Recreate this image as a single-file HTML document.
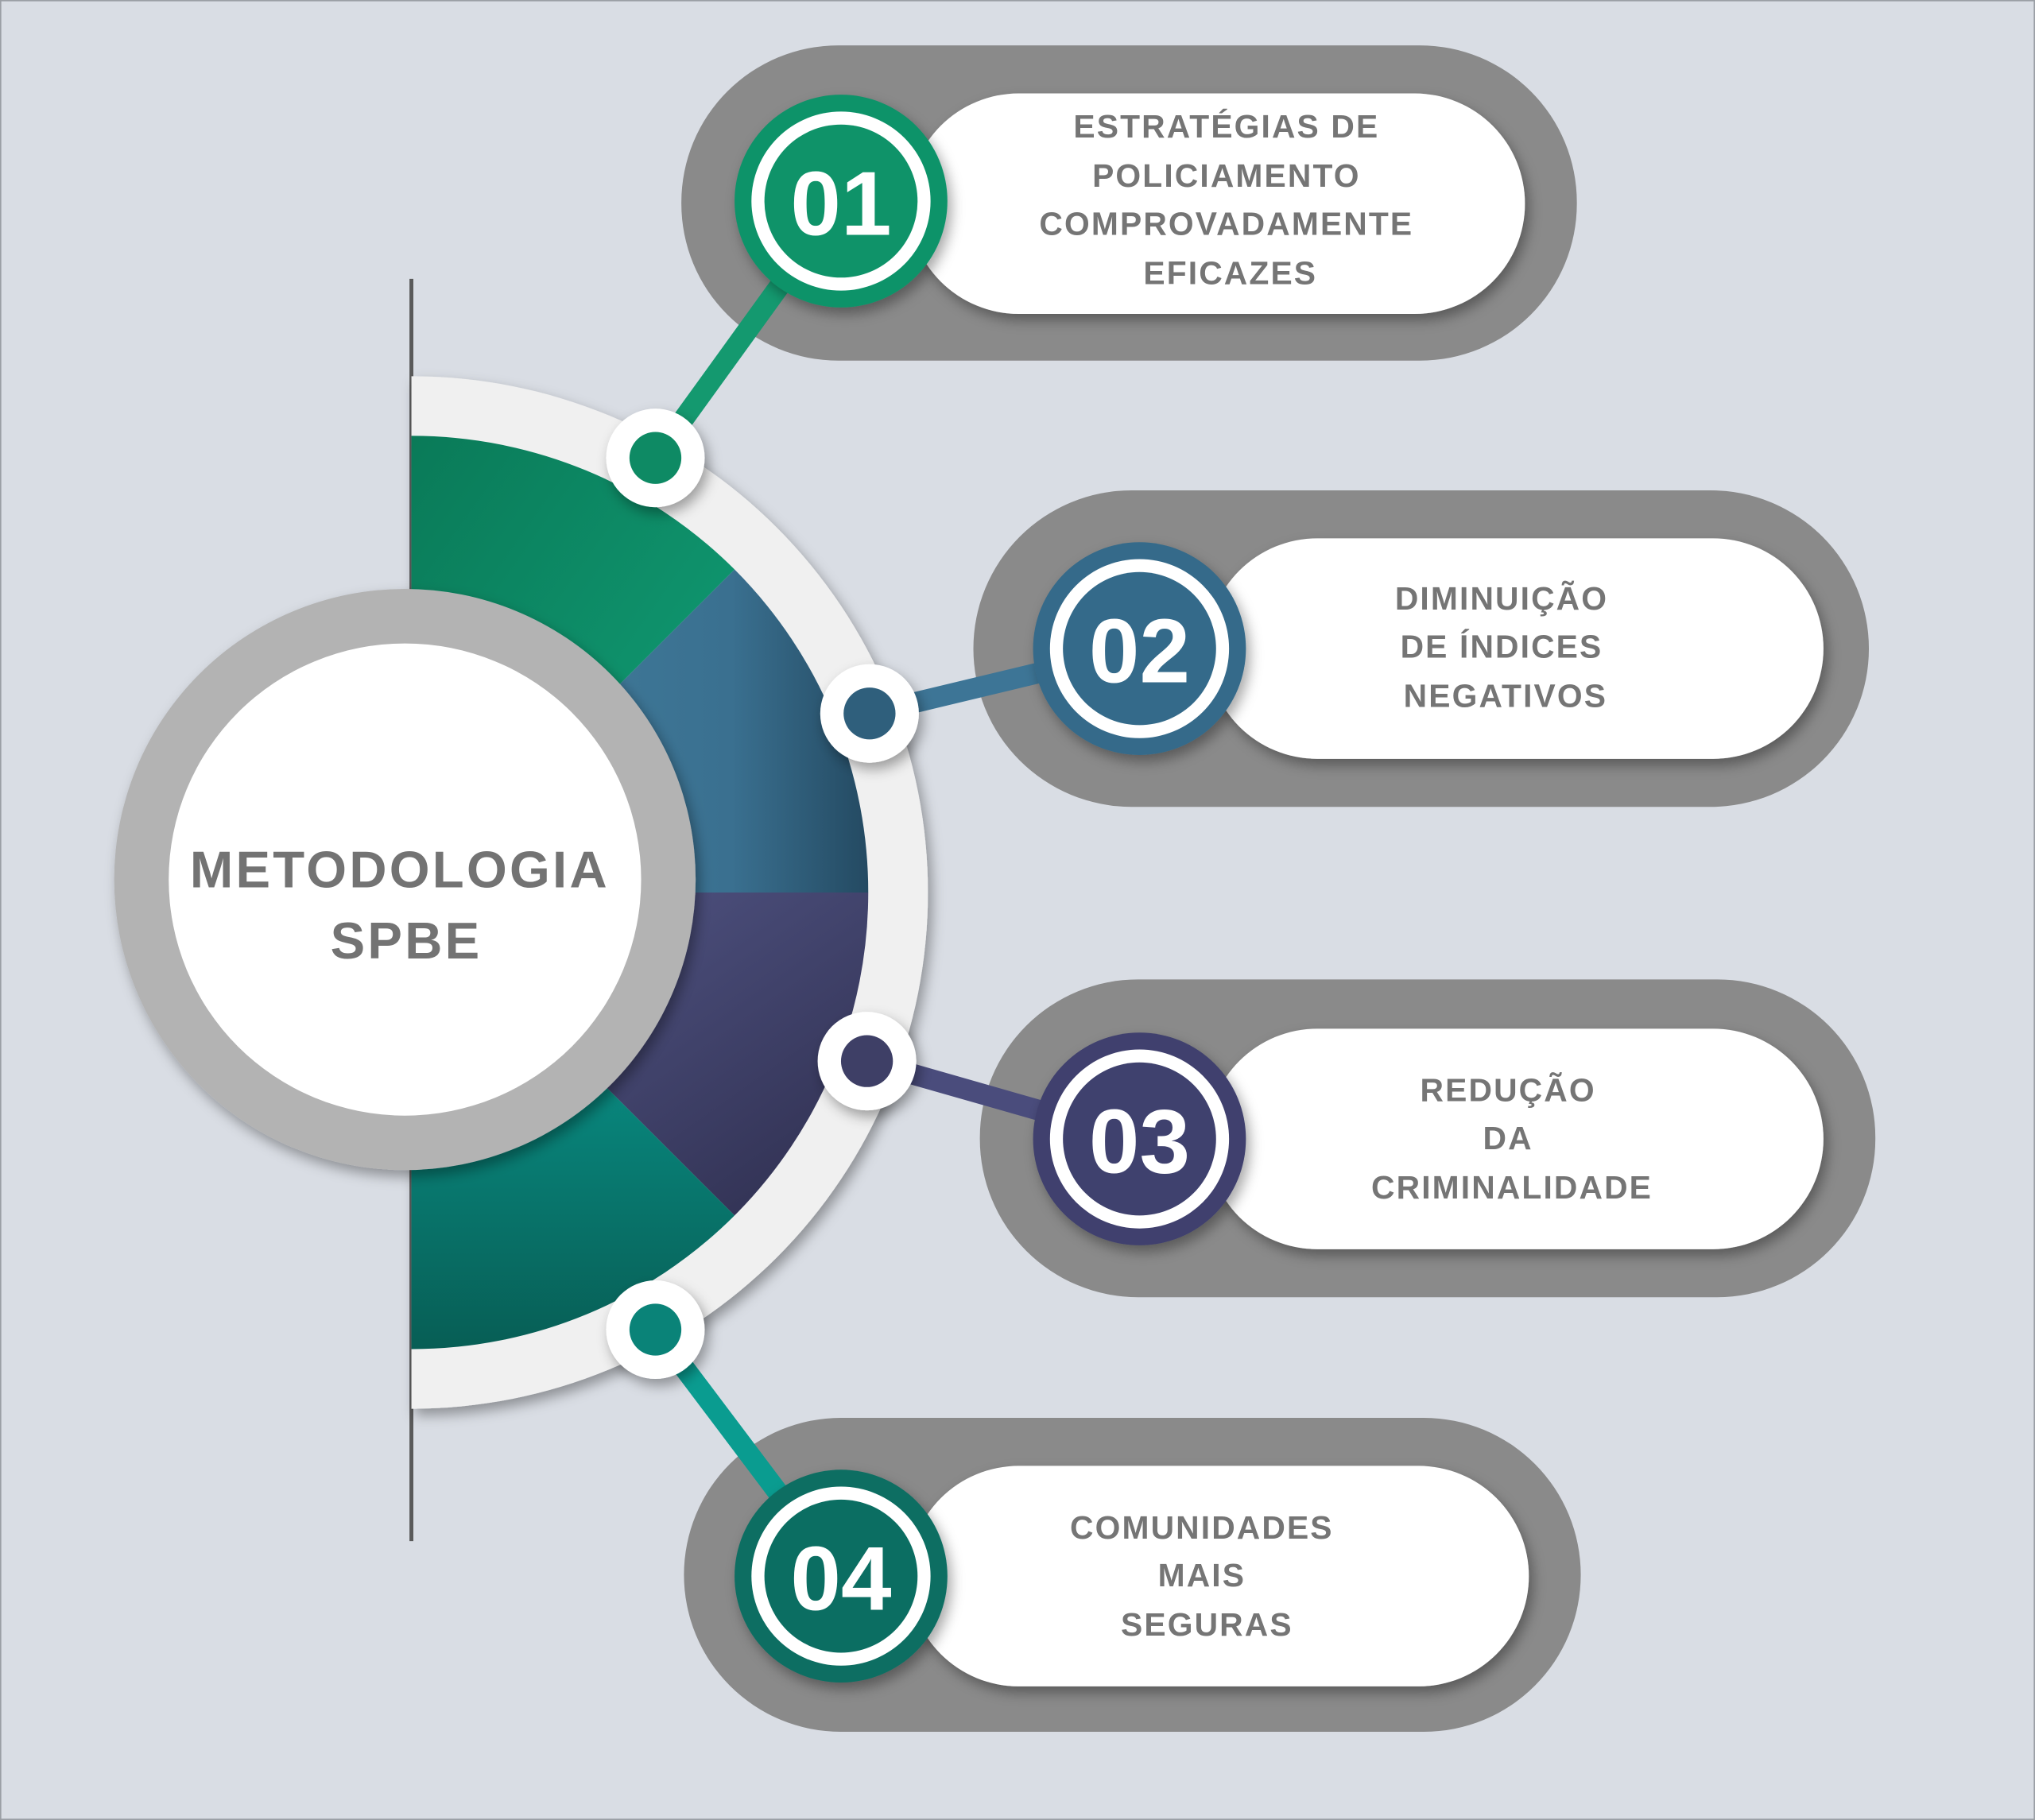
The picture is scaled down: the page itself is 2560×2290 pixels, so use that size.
<!DOCTYPE html>
<html><head><meta charset="utf-8"><style>
html,body{margin:0;padding:0;background:#d9dde4;}
svg{display:block;}
text{font-family:"Liberation Sans",sans-serif;font-weight:bold;}
</style></head><body>
<svg width="2560" height="2290" viewBox="0 0 1568 1403" preserveAspectRatio="none" xmlns="http://www.w3.org/2000/svg">
<defs>
<linearGradient id="gG" x1="0" y1="0" x2="1" y2="1"><stop offset="0" stop-color="#0a7a58"/><stop offset="1" stop-color="#11a077"/></linearGradient>
<linearGradient id="gB" x1="0" y1="0" x2="1" y2="0"><stop offset="0" stop-color="#43809f"/><stop offset="0.7" stop-color="#3a7090"/><stop offset="1" stop-color="#244a62"/></linearGradient>
<linearGradient id="gP" x1="0" y1="0" x2="1" y2="1"><stop offset="0" stop-color="#565a8c"/><stop offset="1" stop-color="#2e2e4e"/></linearGradient>
<linearGradient id="gT" x1="0" y1="0" x2="0" y2="1"><stop offset="0" stop-color="#0aa49a"/><stop offset="1" stop-color="#075e55"/></linearGradient>
<filter id="sh" x="-20%" y="-20%" width="140%" height="140%"><feDropShadow dx="3" dy="5" stdDeviation="5" flood-color="#000" flood-opacity="0.35"/></filter>
</defs>
<rect x="0" y="0" width="1568" height="1403" fill="#d9dde4" stroke="#9a9ea4" stroke-width="2"/>

<rect x="525" y="35" width="690" height="243" rx="121" fill="#8a8a8a"/>
<rect x="750" y="378" width="690" height="244" rx="122" fill="#8a8a8a"/>
<rect x="755" y="755" width="690" height="245" rx="122" fill="#8a8a8a"/>
<rect x="527" y="1093" width="691" height="242" rx="121" fill="#8a8a8a"/>
<rect x="700" y="72" width="475" height="170" rx="85" fill="#ffffff" filter="url(#sh)"/>
<rect x="930" y="415" width="475" height="170" rx="85" fill="#ffffff" filter="url(#sh)"/>
<rect x="930" y="793" width="475" height="170" rx="85" fill="#ffffff" filter="url(#sh)"/>
<rect x="700" y="1130" width="478" height="170" rx="85" fill="#ffffff" filter="url(#sh)"/>

<line x1="317" y1="215" x2="317" y2="1188" stroke="#5a5a5a" stroke-width="3"/>

<path d="M317 290 A398 398 0 0 1 317 1086 Z" fill="#f0f0f0" filter="url(#sh)"/>
<path d="M317 688 L317 336 A352 352 0 0 1 566 439 Z" fill="url(#gG)"/>
<path d="M317 688 L566 439 A352 352 0 0 1 669 688 Z" fill="url(#gB)"/>
<path d="M317 688 L669 688 A352 352 0 0 1 566 937 Z" fill="url(#gP)"/>
<path d="M317 688 L566 937 A352 352 0 0 1 317 1040 Z" fill="url(#gT)"/>

<circle cx="312" cy="678" r="224" fill="#b3b3b3" filter="url(#sh)"/>
<circle cx="312" cy="678" r="182" fill="#ffffff"/>
<text x="308" y="684" font-size="40" letter-spacing="2" fill="#737373" text-anchor="middle">METODOLOGIA</text>
<text x="313" y="739" font-size="40" letter-spacing="2" fill="#737373" text-anchor="middle">SPBE</text>

<g stroke-width="16" stroke-linecap="round" fill="none">
<line x1="505" y1="353" x2="648" y2="155" stroke="#14996f"/>
<line x1="670" y1="550" x2="878" y2="500" stroke="#3d7596"/>
<line x1="668" y1="818" x2="878" y2="878" stroke="#4a4c7c"/>
<line x1="505" y1="1025" x2="648" y2="1215" stroke="#0a9c90"/>
</g>

<g filter="url(#sh)">
<circle cx="505" cy="353" r="38" fill="#fff"/>
<circle cx="670" cy="550" r="38" fill="#fff"/>
<circle cx="668" cy="818" r="38" fill="#fff"/>
<circle cx="505" cy="1025" r="38" fill="#fff"/>
</g>
<circle cx="505" cy="353" r="20" fill="#0e8a64"/>
<circle cx="670" cy="550" r="20" fill="#2f5f7c"/>
<circle cx="668" cy="818" r="20" fill="#3e3f66"/>
<circle cx="505" cy="1025" r="20" fill="#0a8378"/>

<g filter="url(#sh)">
<circle cx="648" cy="155" r="82" fill="#0f9369"/>
<circle cx="878" cy="500" r="82" fill="#346a8a"/>
<circle cx="878" cy="878" r="82" fill="#3f416e"/>
<circle cx="648" cy="1215" r="82" fill="#0b6e62"/>
</g>
<circle cx="648" cy="155" r="69" fill="#fff"/><circle cx="648" cy="155" r="59" fill="#0f9369"/>
<circle cx="878" cy="500" r="69" fill="#fff"/><circle cx="878" cy="500" r="59" fill="#346a8a"/>
<circle cx="878" cy="878" r="69" fill="#fff"/><circle cx="878" cy="878" r="59" fill="#3f416e"/>
<circle cx="648" cy="1215" r="69" fill="#fff"/><circle cx="648" cy="1215" r="59" fill="#0b6e62"/>
<g font-size="70" fill="#ffffff" text-anchor="middle">
<text x="648" y="181">01</text>
<text x="878" y="526">02</text>
<text x="878" y="904">03</text>
<text x="648" y="1241">04</text>
</g>

<g font-size="25" letter-spacing="1.3" fill="#757575" text-anchor="middle">
<text x="945" y="106">ESTRATÉGIAS DE</text>
<text x="945" y="144">POLICIAMENTO</text>
<text x="945" y="181">COMPROVADAMENTE</text>
<text x="948" y="219">EFICAZES</text>
<text x="1157" y="470">DIMINUIÇÃO</text>
<text x="1157" y="507">DE ÍNDICES</text>
<text x="1160" y="545">NEGATIVOS</text>
<text x="1162" y="849">REDUÇÃO</text>
<text x="1162" y="886">DA</text>
<text x="1165" y="924">CRIMINALIDADE</text>
<text x="926" y="1186">COMUNIDADES</text>
<text x="926" y="1223">MAIS</text>
<text x="930" y="1261">SEGURAS</text>
</g>
</svg>
</body></html>
